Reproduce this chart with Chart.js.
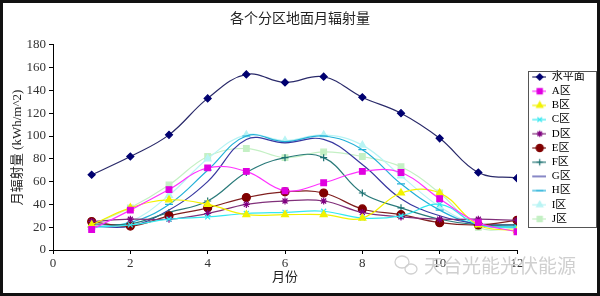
<!DOCTYPE html>
<html>
<head>
<meta charset="utf-8">
<script src="https://cdn.jsdelivr.net/npm/chart.js@4/dist/chart.umd.min.js"></script>
<style>
  body { margin: 0; background: #fff; }
  #wrap { width: 600px; height: 296px; }
</style>
</head>
<body>
<div id="wrap"><canvas id="myChart" width="600" height="296"></canvas></div>
<script>
// months on the x axis
const months = [1, 2, 3, 4, 5, 6, 7, 8, 9, 10, 11, 12]
const seriesNames = ['水平面', 'A区', 'B区', 'C区', 'D区', 'E区', 'F区', 'G区', 'H区', 'I区', 'J区']

// monthly radiation, kWh/m^2
const horizontal = [66, 82, 101, 133, 154, 147, 152, 134, 120, 98, 68, 63]
const zoneA = [18, 35, 53, 72, 69, 52, 59, 69, 68, 45, 24, 16]
const zoneB = [22, 37, 44, 40, 31, 31, 31, 28, 50, 50, 22, 17]
const zoneC = [20, 22, 27, 29, 32, 33, 34, 28, 30, 40, 22, 20]
const zoneD = [25, 27, 27, 32, 40, 43, 43, 33, 29, 27, 27, 26]
const zoneE = [25, 21, 30, 37, 46, 51, 50, 36, 31, 24, 22, 26]
const zoneF = [23, 23, 33, 43, 68, 81, 81, 50, 37, 27, 22, 22]
const zoneG = [21, 21, 35, 60, 97, 94, 97, 75, 45, 30, 23, 22]
const zoneH = [20, 24, 40, 70, 100, 95, 100, 88, 58, 35, 22, 20]
const zoneI = [20, 25, 48, 80, 101, 96, 101, 92, 65, 38, 22, 20]
const zoneJ = [22, 37, 57, 82, 89, 81, 86, 82, 73, 50, 20, 19]

const allValues = [horizontal, zoneA, zoneB, zoneC, zoneD, zoneE, zoneF, zoneG, zoneH, zoneI, zoneJ]

// look of each series: line colour, marker colour, marker
const looks = [
  {line: '#2a2a6a', mark: '#000070', style: 'rectRot', r: 3.5},
  {line: '#ff33ff', mark: '#e000e0', style: 'rect', r: 4},
  {line: '#f2f200', mark: '#f2f200', style: 'triangle', r: 4},
  {line: '#33e8f0', mark: '#33e8f0', style: 'crossRot', r: 3.5},
  {line: '#80307a', mark: '#800080', style: 'star', r: 3.5},
  {line: '#802020', mark: '#800000', style: 'circle', r: 4},
  {line: '#2a7a7a', mark: '#1a7070', style: 'cross', r: 3.5},
  {line: '#3838a0', mark: '#3838a0', style: 'circle', r: 0},
  {line: '#22b0d8', mark: '#22b0d8', style: 'line', r: 4},
  {line: '#b8f4f4', mark: '#b8f4f4', style: 'triangle', r: 4},
  {line: '#c4f0c4', mark: '#c4f0c4', style: 'rect', r: 4}
]

const LEGEND_W = 83

// small line + marker picture for the legend (blank on its left side)
function legendIcon(look) {
  let c = document.createElement('canvas')
  c.width = 26
  c.height = 10
  let ctx = c.getContext('2d')
  ctx.strokeStyle = look.line
  ctx.lineWidth = 1.2
  ctx.beginPath()
  ctx.moveTo(12, 5)
  ctx.lineTo(27, 5)
  ctx.stroke()
  if (look.r > 0) {
    ctx.fillStyle = look.mark
    ctx.strokeStyle = look.mark
    Chart.helpers.drawPoint(ctx, {pointStyle: look.style, radius: look.r * 0.9, borderWidth: 1.2, rotation: 0}, 19.5, 5)
  }
  return c
}

let datasets = []
for (let i = 0; i < seriesNames.length; i++) {
  let look = looks[i]
  datasets.push({
    label: seriesNames[i],
    data: months.map((m, j) => ({x: m, y: allValues[i][j]})),
    borderColor: look.line,
    backgroundColor: look.mark,
    pointBorderColor: look.mark,
    pointBackgroundColor: look.mark,
    pointStyle: look.style,
    pointRadius: look.r,
    pointBorderWidth: 1.2,
    borderWidth: 1.2,
    tension: 0.4,
    icon: legendIcon(look)
  })
}

const frame = {
  id: 'frame',
  beforeUpdate(chart) {
    // fixed legend width so the plot keeps its place
    let lg = chart.legend
    if (lg && !lg._patched) {
      let fit = lg.fit.bind(lg)
      lg.fit = function () {
        fit()
        if (this.isHorizontal && !this.isHorizontal()) this.width = LEGEND_W
      }
      lg._patched = true
    }
  },
  beforeDraw(chart) {
    let ctx = chart.ctx
    ctx.save()
    ctx.fillStyle = '#fff'
    ctx.fillRect(0, 0, chart.width, chart.height)
    ctx.restore()
  },
  afterDraw(chart) {
    let ctx = chart.ctx
    ctx.save()
    // box round the legend
    let lg = chart.legend
    let boxes = lg.legendHitBoxes
    if (boxes && boxes.length) {
      let l = lg.left + 11
      let r = lg.right - 4
      let t = Math.min(...boxes.map(b => b.top)) - 1
      let btm = Math.max(...boxes.map(b => b.top + b.height)) + 2
      ctx.strokeStyle = '#555'
      ctx.lineWidth = 1
      ctx.strokeRect(Math.round(l) + 0.5, Math.round(t) + 0.5, Math.round(r - l), Math.round(btm - t))
    }
    // watermark
    ctx.strokeStyle = '#d0d0d0'
    ctx.lineWidth = 1.3
    ctx.beginPath()
    ctx.ellipse(402, 262, 7, 6, 0, 0, Math.PI * 2)
    ctx.stroke()
    ctx.beginPath()
    ctx.ellipse(411, 269, 6, 5, 0, 0, Math.PI * 2)
    ctx.stroke()
    ctx.fillStyle = '#cfcfcf'
    ctx.font = '19px "Noto Sans CJK SC"'
    ctx.textBaseline = 'middle'
    ctx.fillText('天台光能光伏能源', 424, 266)
    // outer frame
    ctx.strokeStyle = '#111'
    ctx.lineWidth = 3
    ctx.strokeRect(1.5, 1.5, chart.width - 3, chart.height - 3)
    ctx.restore()
  }
}

const serif = 'Liberation Serif, "Noto Sans CJK SC", serif'

new Chart(document.getElementById('myChart'), {
  type: 'line',
  data: {datasets: datasets},
  options: {
    responsive: false,
    animation: false,
    layout: {padding: {left: 0, right: 0, top: 0, bottom: 0}},
    plugins: {
      title: {
        display: true,
        text: '各个分区地面月辐射量',
        color: '#222',
        font: {family: '"Noto Sans CJK SC"', size: 14, weight: 'normal'},
        padding: {top: 9, bottom: 19}
      },
      legend: {
        position: 'right',
        labels: {
          usePointStyle: true,
          pointStyleWidth: 26,
          color: '#111',
          font: {family: serif, size: 11},
          padding: 3.2,
          generateLabels(chart) {
            return chart.data.datasets.map((ds, i) => ({
              text: ds.label,
              pointStyle: ds.icon,
              fillStyle: ds.backgroundColor,
              strokeStyle: ds.borderColor,
              lineWidth: 0,
              hidden: false,
              datasetIndex: i
            }))
          }
        }
      },
      tooltip: {enabled: false}
    },
    scales: {
      x: {
        type: 'linear',
        min: 0,
        max: 12,
        ticks: {stepSize: 2, color: '#333', font: {family: serif, size: 13}, padding: 2},
        grid: {display: true, drawOnChartArea: false, drawTicks: true, tickLength: 4, color: '#000'},
        border: {color: '#000'},
        title: {display: true, text: '月份', color: '#222', font: {family: '"Noto Sans CJK SC"', size: 13}, padding: {top: 12, bottom: 12}},
        afterFit(scale) { scale.height = 46 }
      },
      y: {
        min: 0,
        max: 180,
        ticks: {stepSize: 20, color: '#333', font: {family: serif, size: 13}, padding: 3},
        grid: {display: true, drawOnChartArea: false, drawTicks: true, tickLength: 4, color: '#000'},
        border: {color: '#000'},
        title: {display: true, text: '月辐射量 (kWh/m^2)', color: '#222', font: {family: serif, size: 13}, padding: {top: 10, bottom: 10}},
        afterFit(scale) { scale.width = 53 }
      }
    }
  },
  plugins: [frame]
})
</script>
</body>
</html>
